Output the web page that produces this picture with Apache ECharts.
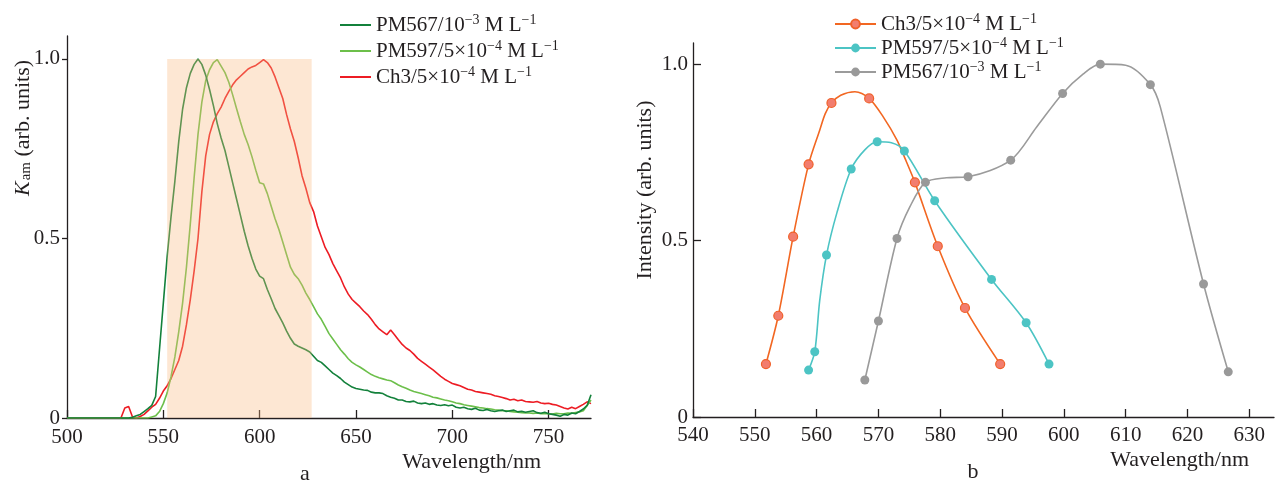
<!DOCTYPE html>
<html><head><meta charset="utf-8">
<script src="https://cdn.jsdelivr.net/npm/echarts@6/dist/echarts.min.js"></script>
<style>html,body{margin:0;padding:0;background:#fff}#c{width:1275px;height:483px}</style>
</head><body><div id="c"></div>
<script>
// ---------- Panel a: spectra ----------
const wlA = [500,505,510,515,520,525,528,
 530,532,534,536,538, 540,542,544,546,548, 550,552,554,556,558, 560,562,564,566,568,
 570,572,574,576,578, 580,582,584,586,588, 590,592,594,596,598, 600,602,604,606,608,
 610,612,614,616,618, 620,622,624,626,628, 630,632,634,636,638, 640,642,644,646,648,
 650,652,654,656,658, 660,662,664,666,668, 670,672,674,676,678, 680,682,684,686,688,
 690,692,694,696,698, 700,702,704,706,708, 710,712,714,716,718, 720,722,724,726,728,
 730,732,734,736,738, 740,742,744,746,748, 750,752,754,756,758, 760,762,764,766,768,
 770,772];
const pm567A = [0,0,0,0,0,0,0,
 0,0,0.002,0.006,0.01, 0.018,0.026,0.035,0.06,0.19, 0.32,0.45,0.56,0.66,0.77, 0.86,0.92,0.96,0.985,1.0,
 0.985,0.955,0.915,0.87,0.82, 0.78,0.745,0.7,0.655,0.61, 0.565,0.52,0.48,0.445,0.415, 0.395,0.388,0.358,0.332,0.305,
 0.285,0.265,0.242,0.222,0.206, 0.2,0.195,0.19,0.184,0.172, 0.16,0.155,0.145,0.135,0.125, 0.118,0.11,0.1,0.093,0.086,
 0.082,0.08,0.078,0.077,0.072, 0.07,0.07,0.068,0.062,0.058, 0.055,0.05,0.05,0.046,0.045, 0.047,0.042,0.04,0.042,0.038,
 0.04,0.036,0.035,0.037,0.034, 0.036,0.03,0.028,0.03,0.026, 0.024,0.027,0.022,0.021,0.024, 0.02,0.018,0.02,0.022,0.018,
 0.02,0.022,0.017,0.019,0.016, 0.018,0.02,0.015,0.013,0.016, 0.012,0.01,0.008,0.005,0.01, 0.008,0.014,0.012,0.018,0.025,
 0.035,0.065];
const pm597A = [0,0,0,0,0,0,0,
 0,0,0,0,0, 0,0,0.003,0.006,0.018, 0.04,0.07,0.115,0.17,0.24, 0.32,0.42,0.54,0.67,0.79,
 0.88,0.94,0.97,0.99,0.998, 0.98,0.962,0.935,0.9,0.862, 0.825,0.79,0.762,0.728,0.69, 0.655,0.652,0.625,0.59,0.555,
 0.525,0.49,0.455,0.42,0.4, 0.388,0.37,0.348,0.33,0.31, 0.29,0.275,0.255,0.235,0.22, 0.205,0.19,0.178,0.165,0.155,
 0.148,0.142,0.135,0.128,0.121, 0.116,0.112,0.109,0.106,0.104, 0.098,0.092,0.087,0.083,0.078, 0.074,0.071,0.068,0.065,0.062,
 0.058,0.056,0.053,0.05,0.048, 0.045,0.042,0.04,0.037,0.035, 0.033,0.031,0.029,0.028,0.026, 0.025,0.023,0.022,0.02,0.02,
 0.018,0.017,0.016,0.015,0.014, 0.014,0.013,0.014,0.012,0.013, 0.012,0.011,0.013,0.012,0.012, 0.014,0.013,0.015,0.017,0.02,
 0.035,0.05];
const ch3A = [0,0,0,0,0,0,0,
 0.028,0.032,0.003,0,0.004, 0.01,0.02,0.03,0.038,0.055, 0.075,0.09,0.11,0.135,0.16, 0.2,0.26,0.33,0.41,0.5,
 0.63,0.73,0.79,0.825,0.848, 0.866,0.89,0.91,0.928,0.942, 0.952,0.962,0.972,0.978,0.982, 0.99,0.998,0.99,0.975,0.95,
 0.92,0.89,0.845,0.805,0.77, 0.725,0.675,0.64,0.6,0.575, 0.535,0.505,0.475,0.455,0.43, 0.41,0.39,0.365,0.345,0.33,
 0.32,0.31,0.298,0.288,0.275, 0.26,0.248,0.24,0.232,0.245, 0.232,0.218,0.205,0.195,0.188, 0.178,0.166,0.158,0.15,0.142,
 0.134,0.125,0.116,0.108,0.102, 0.096,0.093,0.09,0.085,0.08, 0.078,0.074,0.072,0.07,0.068, 0.066,0.062,0.06,0.057,0.054,
 0.05,0.052,0.048,0.05,0.046, 0.045,0.044,0.046,0.042,0.04, 0.041,0.038,0.036,0.032,0.028, 0.025,0.03,0.026,0.032,0.038,
 0.045,0.04];
const shadeA = [552, 627, 0, 1.0];
const ticksAx = [500,550,600,650,700,750];
const ticksY = [0,0.5,1.0];

// ---------- Panel b: intensities (markers + curve shape points) ----------
const ch3BWl  = [551.8,553.8,556.2,558.7,562.4,568.5,575.9,579.6,584.0,589.7];
const ch3BInt = [0.150,0.287,0.511,0.716,0.890,0.903,0.665,0.484,0.309,0.150];
const ch3BCurveWl  = [560.5,561.4,563.9,566.2,570.8,573.0,574.3];
const ch3BCurveInt = [0.813,0.860,0.912,0.922,0.850,0.785,0.733];
const pm597BWl  = [558.7,559.7,561.6,565.6,569.8,574.2,579.1,588.3,593.9,597.6];
const pm597BInt = [0.133,0.185,0.459,0.703,0.780,0.754,0.613,0.390,0.267,0.150];
const pm597BCurveWl  = [560.5,563.3,567.8,572.1];
const pm597BCurveInt = [0.330,0.580,0.757,0.777];
const pm567BWl  = [567.8,570.0,573.0,577.6,584.5,591.4,599.8,605.9,614.0,622.6,626.6];
const pm567BInt = [0.105,0.272,0.506,0.665,0.681,0.728,0.917,1.000,0.942,0.377,0.128];
const pm567BCurveWl  = [575.1,581.0,595.6,603.1,610.0,615.6];
const pm567BCurveInt = [0.596,0.678,0.822,0.972,0.997,0.879];
const ticksBx = [540,550,560,570,580,590,600,610,620,630];

const FONT = '"Liberation Serif", "Times New Roman", serif';
const INK = '#231f20';

function pairs(xs, ys){ return xs.map((x,i)=>[x, ys[i]]); }
function bData(mw, mi, cw, ci){
  const pts = mw.map((x,i)=>({value:[x, mi[i]]}))
    .concat(cw.map((x,i)=>({value:[x, ci[i]], symbolSize:0})));
  pts.sort((a,b)=>a.value[0]-b.value[0]);
  return pts;
}
const labelsMap = {
  a1: 'PM567/10{sup|−3} M L{sup|−1}',
  a2: 'PM597/5×10{sup|−4} M L{sup|−1}',
  a3: 'Ch3/5×10{sup|−4} M L{sup|−1}',
  b1: 'Ch3/5×10{sup|−4} M L{sup|−1}',
  b2: 'PM597/5×10{sup|−4} M L{sup|−1}',
  b3: 'PM567/10{sup|−3} M L{sup|−1}'
};
const legendText = {
  color: INK, fontFamily: FONT, fontSize: 21, lineHeight: 24,
  rich: { sup: { fontFamily: FONT, fontSize: 14, verticalAlign: 'top', lineHeight: 14, color: INK } }
};
function yFmt(v){ return v === 0 ? '0' : v.toFixed(1); }
const axisLineStyle = { color: INK, width: 1.3 };

const chart = echarts.init(document.getElementById('c'), null, { renderer: 'canvas' });
chart.setOption({
  animation: false,
  backgroundColor: '#fff',
  grid: [
    { left: 67, right: 684, top: 36, bottom: 65 },
    { left: 693, right: 1, top: 43, bottom: 66 }
  ],
  xAxis: [
    { type: 'value', gridIndex: 0, min: 500, max: 772,
      axisLine: { lineStyle: axisLineStyle },
      axisTick: { inside: true, length: 8, customValues: ticksAx, lineStyle: axisLineStyle },
      axisLabel: { customValues: ticksAx, margin: 9, color: INK, fontFamily: FONT, fontSize: 21 },
      splitLine: { show: false } },
    { type: 'value', gridIndex: 1, min: 540, max: 634,
      axisLine: { lineStyle: axisLineStyle },
      axisTick: { inside: true, length: 8, customValues: ticksBx, lineStyle: axisLineStyle },
      axisLabel: { customValues: ticksBx, margin: 8, color: INK, fontFamily: FONT, fontSize: 21 },
      splitLine: { show: false } }
  ],
  yAxis: [
    { type: 'value', gridIndex: 0, min: 0, max: 1.064,
      axisLine: { show: true, lineStyle: axisLineStyle },
      axisTick: { show: true, inside: false, length: 5, customValues: ticksY, lineStyle: axisLineStyle },
      axisLabel: { customValues: ticksY, formatter: yFmt, margin: 7, color: INK, fontFamily: FONT, fontSize: 21 },
      splitLine: { show: false } },
    { type: 'value', gridIndex: 1, min: 0, max: 1.06,
      axisLine: { show: true, lineStyle: axisLineStyle },
      axisTick: { show: true, inside: true, length: 8, customValues: ticksY, lineStyle: axisLineStyle },
      axisLabel: { customValues: ticksY, formatter: yFmt, margin: 5, color: INK, fontFamily: FONT, fontSize: 21 },
      splitLine: { show: false } }
  ],
  legend: [
    { data: ['a1','a2','a3'], orient: 'vertical', left: 334, top: 8, itemWidth: 31, itemHeight: 12, itemGap: 2,
      formatter: n => labelsMap[n], textStyle: legendText, itemStyle: { opacity: 0 } },
    { data: ['b1','b2','b3'], orient: 'vertical', left: 829, top: 7, itemWidth: 41, itemHeight: 11, itemGap: 0,
      formatter: n => labelsMap[n], textStyle: legendText }
  ],
  series: [
    { name: 'a1', type: 'line', xAxisIndex: 0, yAxisIndex: 0, data: pairs(wlA, pm567A),
      symbol: 'none', lineStyle: { color: '#13813b', width: 1.6 }, itemStyle: { color: '#13813b' }, z: 3 },
    { name: 'a2', type: 'line', xAxisIndex: 0, yAxisIndex: 0, data: pairs(wlA, pm597A),
      symbol: 'none', lineStyle: { color: '#6cbf4a', width: 1.6 }, itemStyle: { color: '#6cbf4a' }, z: 2 },
    { name: 'a3', type: 'line', xAxisIndex: 0, yAxisIndex: 0, data: pairs(wlA, ch3A),
      symbol: 'none', lineStyle: { color: '#ed1c24', width: 1.6 }, itemStyle: { color: '#ed1c24' }, z: 1 },
    { name: 'shade', type: 'custom', xAxisIndex: 0, yAxisIndex: 0, z: 10, silent: true,
      encode: { x: [0, 1], y: [2, 3] },
      data: [shadeA],
      renderItem: function (params, api) {
        const p0 = api.coord([api.value(0), api.value(3)]);
        const p1 = api.coord([api.value(1), api.value(2)]);
        return { type: 'rect', shape: { x: p0[0], y: p0[1], width: p1[0] - p0[0], height: p1[1] - p0[1] },
                 style: { fill: 'rgba(249,186,126,0.34)' } };
      } },
    { name: 'b1', type: 'line', xAxisIndex: 1, yAxisIndex: 1, smooth: 0.3,
      data: bData(ch3BWl, ch3BInt, ch3BCurveWl, ch3BCurveInt),
      symbol: 'circle', symbolSize: 9,
      lineStyle: { color: '#f26722', width: 1.6 },
      itemStyle: { color: '#f27d6e', borderColor: '#f0602a', borderWidth: 1.2 } },
    { name: 'b2', type: 'line', xAxisIndex: 1, yAxisIndex: 1, smooth: 0.3,
      data: bData(pm597BWl, pm597BInt, pm597BCurveWl, pm597BCurveInt),
      symbol: 'circle', symbolSize: 9,
      lineStyle: { color: '#4cc4c4', width: 1.6 },
      itemStyle: { color: '#4cc4c4' } },
    { name: 'b3', type: 'line', xAxisIndex: 1, yAxisIndex: 1, smooth: 0.3,
      data: bData(pm567BWl, pm567BInt, pm567BCurveWl, pm567BCurveInt),
      symbol: 'circle', symbolSize: 9,
      lineStyle: { color: '#9b9b9b', width: 1.6 },
      itemStyle: { color: '#999999' } }
  ],
  graphic: [
    { type: 'text', x: 541, y: 462, style: { text: 'Wavelength/nm', font: '22px ' + FONT, fill: INK, align: 'right', verticalAlign: 'middle' } },
    { type: 'text', x: 305, y: 474, style: { text: 'a', font: '22px ' + FONT, fill: INK, align: 'center', verticalAlign: 'middle' } },
    { type: 'text', x: 1249, y: 460, style: { text: 'Wavelength/nm', font: '22px ' + FONT, fill: INK, align: 'right', verticalAlign: 'middle' } },
    { type: 'text', x: 973, y: 472, style: { text: 'b', font: '22px ' + FONT, fill: INK, align: 'center', verticalAlign: 'middle' } },
    { type: 'text', x: 23, y: 128, rotation: Math.PI / 2,
      style: { text: '{k|K}{s|am} (arb. units)', font: '22px ' + FONT, fill: INK, align: 'center', verticalAlign: 'middle',
        rich: { k: { fontFamily: FONT, fontSize: 22, fontStyle: 'italic', fill: INK },
                s: { fontFamily: FONT, fontSize: 15, verticalAlign: 'bottom', fill: INK, padding: [0,0,0,1] } } } },
    { type: 'text', x: 645, y: 190, rotation: Math.PI / 2,
      style: { text: 'Intensity (arb. units)', font: '22px ' + FONT, fill: INK, align: 'center', verticalAlign: 'middle' } }
  ]
});
</script>
</body></html>
